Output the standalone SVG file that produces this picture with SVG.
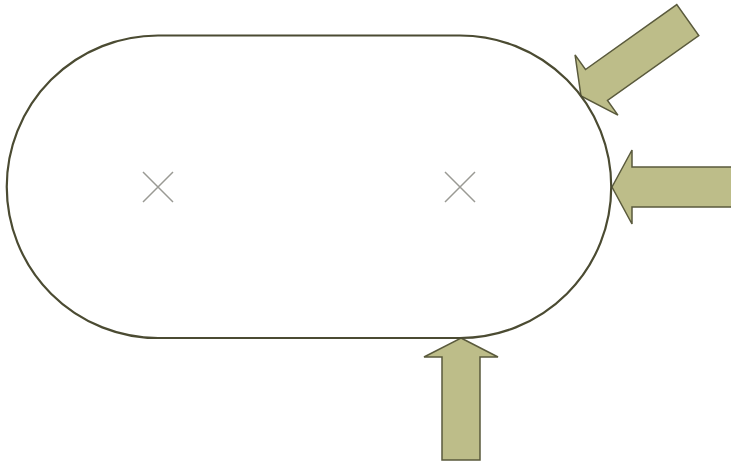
<svg xmlns="http://www.w3.org/2000/svg" width="731" height="465" viewBox="0 0 731 465">
<style>
.arrow{fill:#BDBD89;stroke:#5A5A3C;stroke-width:1.5;stroke-linejoin:miter}
.stadium{fill:none;stroke:#4B4B32;stroke-width:2.2}
.cross{stroke:#9A9A94;stroke-width:1.5;fill:none}
</style>
<defs>
<path id="arr" d="M0,0 L19,-37 L19,-19 L140,-19 L140,19 L19,19 L19,37 Z"/>
</defs>
<rect width="731" height="465" fill="#fff"/>
<g id="arrow-diagonal"><path class="arrow" transform="translate(581,96) rotate(-35.4)" d="M0,0 L19,-37 L19,-19 L131,-19 L131,19 L19,19 L19,37 Z"/></g>
<g id="arrow-right"><path class="arrow" transform="translate(612,187)" d="M0,0 L20,-37 L20,-20 L125,-20 L125,20 L20,20 L20,37 Z"/></g>
<g id="arrow-bottom"><path class="arrow" transform="translate(461,338) rotate(90)" d="M0,0 L19,-37 L19,-19 L122,-19 L122,19 L19,19 L19,37 Z"/></g>
<g id="stadium"><path class="stadium" d="M158,35.5 H460 A151.25,151.25 0 0 1 460,338 H158 A151.25,151.25 0 0 1 158,35.5 Z"/></g>
<g id="cross-left"><path class="cross" d="M143,172 L173,202 M173,172 L143,202"/></g>
<g id="cross-right"><path class="cross" d="M445,172 L475,202 M475,172 L445,202"/></g>
</svg>
